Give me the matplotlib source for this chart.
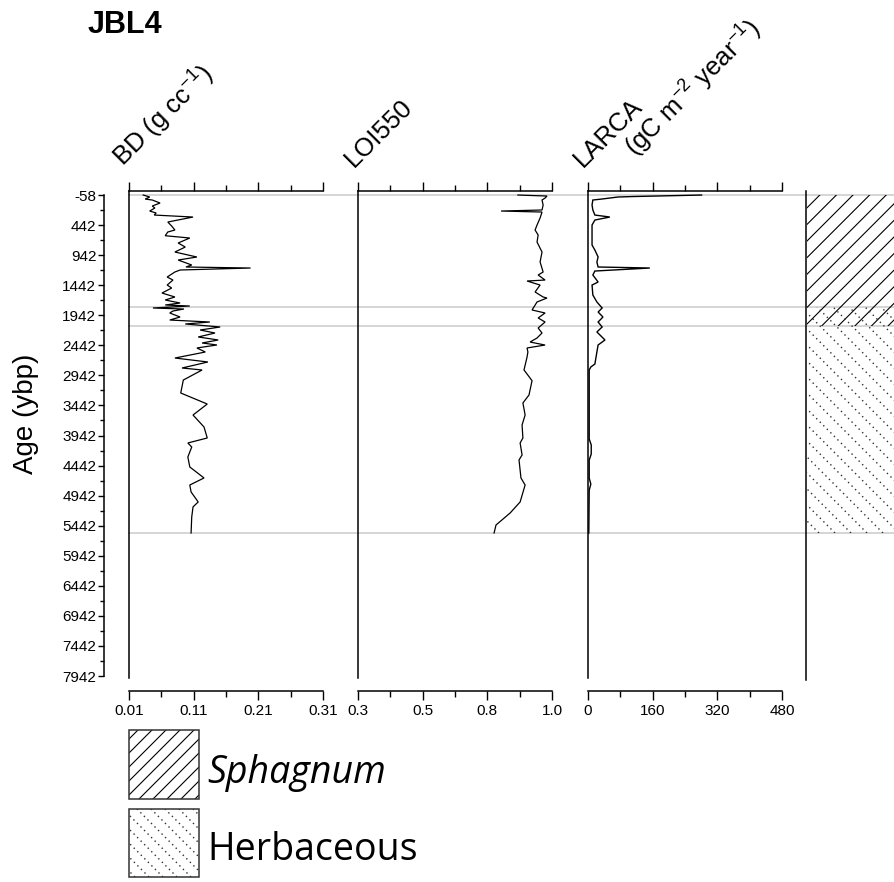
import numpy as np
import matplotlib
matplotlib.use("Agg")
import matplotlib.pyplot as plt
from matplotlib.lines import Line2D
from matplotlib.patches import Rectangle
from matplotlib.transforms import IdentityTransform, blended_transform_factory
from matplotlib.ticker import FixedLocator, FixedFormatter

plt.rcParams['font.family'] = ['Liberation Sans', 'DejaVu Sans']
plt.rcParams['mathtext.fontset'] = 'custom'
plt.rcParams['mathtext.rm'] = 'Liberation Sans'
plt.rcParams['mathtext.it'] = 'Liberation Sans'

# ---------------- data ----------------
bd_age = [-58, -25, 9, 25, 75, 125, 158, 208, 241, 275, 308, 391, 458, 524, 557,
          619, 657, 740, 807, 890, 973, 1023, 1106, 1139, 1156, 1189, 1222, 1306,
          1356, 1439, 1489, 1572, 1638, 1688, 1738, 1771, 1788, 1821, 1838, 1871,
          1904, 1971, 2021, 2054, 2087, 2137, 2187, 2237, 2303, 2353, 2403, 2436,
          2486, 2553, 2653, 2719, 2819, 2852, 3019, 3235, 3418, 3601, 3800, 3983,
          4066, 4133, 4299, 4465, 4648, 4765, 4881, 5047, 5130, 5297, 5563]
bd = [0.032, 0.042, 0.035, 0.046, 0.058, 0.046, 0.050, 0.042, 0.052, 0.049, 0.109,
      0.070, 0.076, 0.081, 0.070, 0.066, 0.104, 0.086, 0.097, 0.081, 0.115, 0.086,
      0.107, 0.098, 0.198, 0.089, 0.081, 0.069, 0.078, 0.069, 0.076, 0.061, 0.081,
      0.066, 0.089, 0.066, 0.104, 0.047, 0.095, 0.078, 0.073, 0.089, 0.073, 0.135,
      0.097, 0.151, 0.120, 0.143, 0.117, 0.148, 0.123, 0.146, 0.115, 0.128, 0.081,
      0.132, 0.092, 0.123, 0.094, 0.090, 0.131, 0.109, 0.126, 0.131, 0.101, 0.107,
      0.101, 0.104, 0.126, 0.104, 0.106, 0.117, 0.109, 0.107, 0.106]

loi_age = [-58, -41, -8, 25, 108, 191, 208, 225, 324, 441, 524, 607, 724, 890,
           1056, 1223, 1272, 1356, 1372, 1439, 1555, 1638, 1655, 1721, 1854, 1904,
           1987, 2054, 2154, 2237, 2320, 2387, 2437, 2486, 2553, 2636, 2852, 3030,
           3268, 3401, 3601, 3767, 3983, 4066, 4266, 4349, 4648, 4765, 5047, 5230,
           5430, 5563]
loi = [0.877, 0.982, 0.975, 0.964, 0.968, 0.964, 0.816, 0.964, 0.957, 0.946, 0.939,
       0.950, 0.946, 0.964, 0.957, 0.968, 0.950, 0.975, 0.910, 0.957, 0.939, 0.968,
       0.982, 0.946, 0.928, 0.975, 0.950, 0.975, 0.950, 0.964, 0.946, 0.921, 0.975,
       0.910, 0.913, 0.910, 0.899, 0.928, 0.917, 0.895, 0.903, 0.892, 0.895, 0.885,
       0.892, 0.881, 0.888, 0.903, 0.885, 0.849, 0.798, 0.791]

larca_age = [-58, -41, -33, -25, -8, 8, 25, 108, 191, 275, 308, 358, 441, 607, 774,
             857, 973, 1056, 1139, 1156, 1206, 1272, 1389, 1439, 1605, 1721, 1821,
             1888, 1971, 2054, 2137, 2220, 2353, 2436, 2553, 2753, 2802, 2852, 4000,
             4100, 4250, 4350, 4650, 4750, 4850, 5563]
larca = [281, 166, 111, 74, 54, 35, 12, 10, 12, 17, 54, 17, 10, 10, 10, 17, 25, 22,
         25, 153, 17, 12, 25, 10, 12, 22, 35, 25, 37, 25, 35, 22, 42, 25, 22, 17, 7,
         3, 3, 8, 8, 3, 3, 7, 3, 2]

age_ticks = list(range(-58, 7943, 500))
age_minor = list(range(192, 7943, 500))
zone_bounds = [-58, 1805, 2116, 5563]
sphagnum_zone = (-58, 2116)
herb_zone = (1805, 5563)

bd_ticks = [0.01, 0.11, 0.21, 0.31]
loi_ticks = list(np.linspace(0.3, 1.0, 4))
larca_ticks = [0, 160, 320, 480]

# ---------------- layout ----------------
W, H = 895, 882
fig = plt.figure(figsize=(W / 100, H / 100), dpi=100)
fig.patch.set_facecolor('white')


def fx(px):
    return px / W


def fy(py):
    return 1 - py / H


TOP, BOT = 191, 678
YLIM = (7975, -125)
SPINE_LW = 1.1
TICK_FS = 11


def make_panel(x0, x1, xlim, ticks, labels):
    ax = fig.add_axes([fx(x0), fy(BOT), fx(x1 - x0), (BOT - TOP) / H])
    ax.patch.set_visible(False)
    ax.set_ylim(*YLIM)
    ax.set_xlim(*xlim)
    ax.spines['right'].set_visible(False)
    ax.spines['bottom'].set_position(('outward', 9.4))
    for s in ('left', 'top', 'bottom'):
        ax.spines[s].set_linewidth(SPINE_LW)
    ax.xaxis.set_major_locator(FixedLocator(ticks))
    ax.xaxis.set_major_formatter(FixedFormatter(labels))
    minor = [(ticks[i] + ticks[i + 1]) / 2 for i in range(len(ticks) - 1)]
    ax.xaxis.set_minor_locator(FixedLocator(minor))
    ax.tick_params(axis='x', which='both', direction='out', top=True, bottom=True,
                   labeltop=False, labelbottom=True, width=1.0, labelsize=TICK_FS,
                   pad=3)
    ax.tick_params(axis='x', which='major', length=6.5)
    ax.tick_params(axis='x', which='minor', length=4.3)
    ax.tick_params(axis='y', left=False, labelleft=False)
    return ax


ax_bd = make_panel(129, 323, (0.01, 0.31), bd_ticks, ['%.2f' % t for t in bd_ticks])
ax_loi = make_panel(358, 552, (0.3, 1.0), loi_ticks, ['%.1f' % t for t in loi_ticks])
ax_lar = make_panel(588, 782, (0, 480), larca_ticks, ['%d' % t for t in larca_ticks])

ax_bd.plot(bd, bd_age, color='black', lw=0.9, solid_joinstyle='miter')
ax_loi.plot(loi, loi_age, color='black', lw=0.9, solid_joinstyle='miter')
ax_lar.plot(larca, larca_age, color='black', lw=1.0, solid_joinstyle='miter')

# age axis
ax_age = fig.add_axes([fx(104), fy(BOT), 0.0001, (BOT - TOP) / H])
ax_age.patch.set_visible(False)
ax_age.set_ylim(*YLIM)
for s in ('right', 'top', 'bottom'):
    ax_age.spines[s].set_visible(False)
ax_age.spines['left'].set_linewidth(SPINE_LW)
ax_age.spines['left'].set_bounds(age_ticks[0], age_ticks[-1])
ax_age.set_xticks([])
ax_age.yaxis.set_major_locator(FixedLocator(age_ticks))
ax_age.yaxis.set_major_formatter(FixedFormatter([str(t) for t in age_ticks]))
ax_age.yaxis.set_minor_locator(FixedLocator(age_minor))
ax_age.tick_params(axis='y', which='major', length=4.5, width=1.0, labelsize=TICK_FS, pad=1)
ax_age.tick_params(axis='y', which='minor', length=3.0, width=1.0)

# lithology column
ax_lith = fig.add_axes([fx(806), fy(BOT + 2), 1 - fx(806), (BOT + 2 - TOP) / H])
ax_lith.patch.set_visible(False)
ax_lith.set_ylim(7975 + 2 / 0.060125, -125)
ax_lith.set_xlim(0, 1)
for s in ('right', 'top', 'bottom'):
    ax_lith.spines[s].set_visible(False)
ax_lith.spines['left'].set_linewidth(SPINE_LW)
ax_lith.set_xticks([])
ax_lith.set_yticks([])

# zone boundaries across all columns
gray_tr = blended_transform_factory(fig.transFigure, ax_bd.transData)
for b in zone_bounds:
    fig.add_artist(Line2D([fx(129), 1.0], [b, b], transform=gray_tr,
                          color='#d2d2d2', lw=1.3, zorder=-1))


def hatch_box(x0, y0, x1, y1, kind, spacing):
    """Fill a display-space box with diagonal hatching."""
    clip = Rectangle((x0, y0), x1 - x0, y1 - y0, transform=IdentityTransform(),
                     fill=False, visible=False)
    fig.add_artist(clip)
    if kind == 'sphagnum':
        c0 = np.floor((x0 - y1) / spacing) * spacing
        cs = np.arange(c0, x1 - y0 + spacing, spacing)
        segs = [([c + y0, c + y1], [y0, y1]) for c in cs]
        style = dict(color='black', lw=0.8, ls='-')
    else:
        c0 = np.floor((x0 + y0) / spacing) * spacing
        cs = np.arange(c0, x1 + y1 + spacing, spacing)
        segs = [([c - y0, c - y1], [y0, y1]) for c in cs]
        style = dict(color='#303030', lw=1.0, ls=(0, (1, 2.6)))
    for xs, ys in segs:
        ln = Line2D(xs, ys, transform=IdentityTransform(), zorder=3, **style)
        ln.set_clip_path(clip)
        fig.add_artist(ln)


lx0 = ax_lith.transAxes.transform((0, 0))[0] + 1
lx1 = W + 5


def age_to_disp(age):
    return ax_lith.transData.transform((0, age))[1]


hatch_box(lx0, age_to_disp(sphagnum_zone[1]), lx1, age_to_disp(sphagnum_zone[0]),
          'sphagnum', 16.6)
hatch_box(lx0, age_to_disp(herb_zone[1]), lx1, age_to_disp(herb_zone[0]),
          'herb', 16.0)

# ---------------- text ----------------
fig.text(fx(88), fy(33), 'JBL4', fontsize=22, fontweight='bold', va='baseline', ha='left')

title_kw = dict(rotation=45, rotation_mode='anchor', ha='left', va='baseline', fontsize=18.5)
fig.text(fx(124), fy(168), 'BD (g cc$^{-1}$)', **title_kw)
fig.text(fx(354), fy(168), 'LOI550', **title_kw)
fig.text(fx(583), fy(168), 'LARCA', **title_kw)
fig.text(fx(636), fy(158), '(gC m$^{-2}$ year$^{-1}$)', **title_kw)

fig.text(fx(26), fy(414), 'Age (ybp)', rotation=90, fontsize=20, ha='center', va='center')

# ---------------- legend ----------------
legend_items = [('Sphagnum', 'sphagnum', 730, 799, 'italic', 783),
                ('Herbaceous', 'herb', 809, 877, 'normal', 860)]
for label, kind, top_px, bot_px, style, base_px in legend_items:
    x0, x1 = 129, 199
    y0, y1 = H - bot_px, H - top_px
    hatch_box(x0, y0, x1, y1, kind, 14.0)
    fig.add_artist(Rectangle((x0, y0), x1 - x0, y1 - y0, transform=IdentityTransform(),
                             fill=False, edgecolor='#333333', lw=1.1, zorder=4))
    fig.text(fx(207), fy(base_px), label, fontsize=27, fontstyle=style,
             family=['Open Sans', 'DejaVu Sans'], va='baseline', ha='left')

fig.savefig('out.png', dpi=100)
